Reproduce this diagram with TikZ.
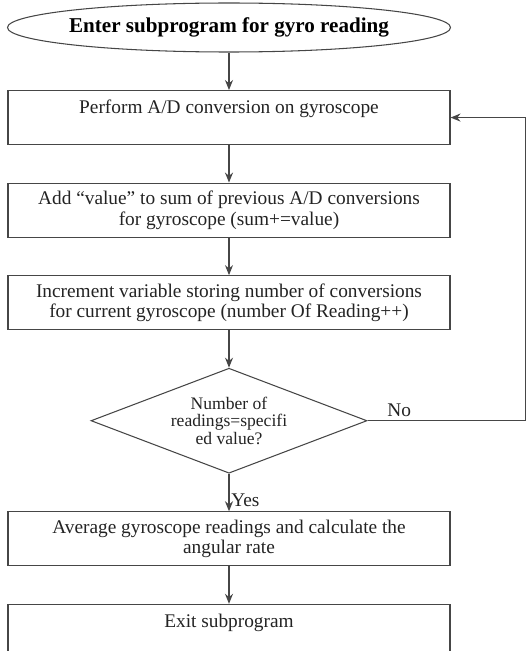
\documentclass[tikz,border=0pt]{standalone}
\usepackage{fontspec}
\setmainfont{Liberation Serif}
\usepackage{tikz}
\usetikzlibrary{arrows.meta, positioning, shapes.geometric}
\definecolor{flowline}{RGB}{70,70,70}
\definecolor{flowtext}{RGB}{35,35,35}

\begin{document}
\begin{tikzpicture}[
  node distance=0.75cm,
  box/.style={rectangle, draw=flowline, text=flowtext, minimum width=8.84cm,
              minimum height=1.08cm, align=center, font=\fontsize{11}{11.8}\selectfont,
              inner sep=2pt, line width=0.6pt},
  terminal/.style={ellipse, draw=flowline, minimum width=8.86cm, minimum height=0.98cm,
              inner xsep=-2pt, inner ysep=0pt,
              font=\fontsize{12}{14}\selectfont\bfseries, line width=0.6pt},
  decision/.style={diamond, draw=flowline, text=flowtext, minimum width=5.52cm,
              minimum height=2.1cm, shape aspect=2.6, inner sep=0pt, align=center,
              font=\fontsize{10}{10}\selectfont, line width=0.6pt},
  arrow/.style={-{Stealth[length=2mm, width=1.6mm]}, draw=flowline, line width=0.7pt}]

  \useasboundingbox (0,0) rectangle (10.54,-13.02);

  \node[terminal] (enter) at (4.58,-0.55) {Enter subprogram for gyro reading};
  \node[box, below=of enter]     (convert)   {Perform A/D conversion on gyroscope\\ \mbox{}};
  \node[box, below=of convert]   (accum)     {Add ``value'' to sum of previous A/D conversions\\for gyroscope (sum+=value)};
  \node[box, below=of accum]     (increment) {Increment variable storing number of conversions\\for current gyroscope (number Of Reading++)};
  \node[decision, below=of increment] (check) {Number of\\readings=specifi\\ed value?};
  \node[box, below=of check]     (average)   {Average gyroscope readings and calculate the\\angular rate};
  \node[box, below=of average]   (exit)      {Exit subprogram\\ \mbox{}};
  \coordinate[right=1.5cm of convert.east] (loopback);

  \draw[arrow] (enter) -- (convert);
  \draw[arrow] (convert) -- (accum);
  \draw[arrow] (accum) -- (increment);
  \draw[arrow] (increment) -- (check);
  \draw[arrow] (check) -- node[pos=0.72, right, inner sep=1pt, font=\fontsize{11}{11.5}\selectfont, text=flowtext] {Yes} (average);
  \draw[arrow] (average) -- (exit);
  \draw[arrow] (check.east) -| node[pos=0.1, above, inner sep=2pt, font=\fontsize{11}{11.5}\selectfont, text=flowtext] {No} (loopback) -- (convert.east);
\end{tikzpicture}
\end{document}
